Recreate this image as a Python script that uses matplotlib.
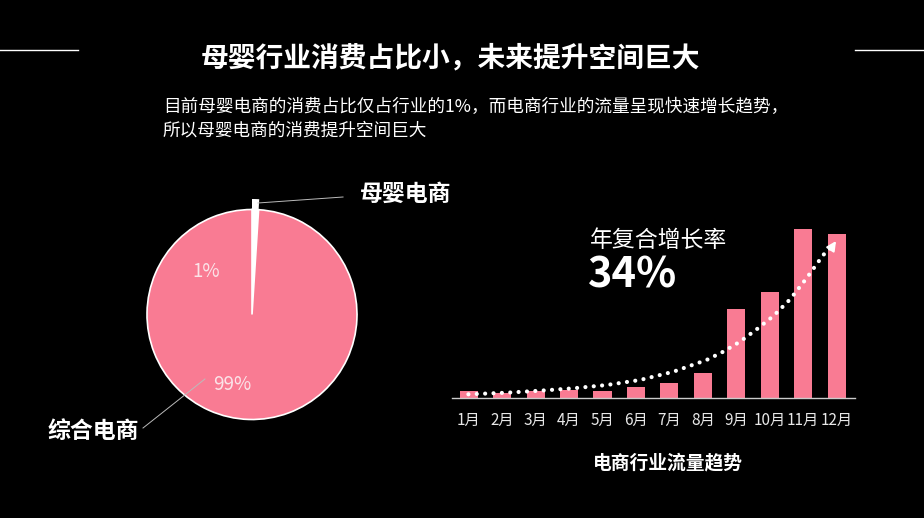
import numpy as np
import matplotlib
matplotlib.use("Agg")
import matplotlib.pyplot as plt
from matplotlib.lines import Line2D

plt.rcParams['font.family'] = ['Noto Sans CJK SC', 'DejaVu Sans']

# 数据
pie_labels = ["母婴电商", "综合电商"]
pie_values = [1, 99]
pie_pct = ["1%", "99%"]

months = ["1月", "2月", "3月", "4月", "5月", "6月", "7月", "8月", "9月", "10月", "11月", "12月"]
traffic = [0.70, 0.50, 0.67, 0.73, 0.70, 1.03, 1.43, 2.47, 8.83, 10.6, 16.87, 16.37]

# 趋势虚线（从图中读取的点）
trend_x = [-0.01, 1.14, 2.13, 3.13, 4.13, 5.12, 6.12, 7.11, 7.61, 8.11, 8.61, 9.11, 9.61, 10.1, 10.6, 10.92]
trend_y = [0.34, 0.50, 0.70, 0.94, 1.27, 1.77, 2.60, 3.77, 4.60, 5.60, 6.84, 8.17, 9.84, 11.94, 14.27, 15.3]

pink = "#f97b93"
W, H = 924, 518

fig = plt.figure(figsize=(W / 100, H / 100), dpi=100, facecolor="black")

def fx(px):
    return px / W

def fy(py):
    return 1 - py / H

# 标题和两侧线条
fig.text(fx(450), fy(58), "母婴行业消费占比小，未来提升空间巨大", color="white",
         fontsize=20, fontweight="bold", ha="center", va="center")
fig.add_artist(Line2D([0, fx(78)], [fy(50), fy(50)], color="white", lw=1))
fig.add_artist(Line2D([fx(855), 1], [fy(50), fy(50)], color="white", lw=1))

fig.text(fx(163), fy(107), "目前母婴电商的消费占比仅占行业的1%，而电商行业的流量呈现快速增长趋势，",
         color="white", fontsize=12.7, ha="left", va="center")
fig.text(fx(163), fy(130), "所以母婴电商的消费提升空间巨大",
         color="white", fontsize=12.7, ha="left", va="center")

# 饼图
ax1 = fig.add_axes([fx(126), fy(440.5), 252 / W, 252 / H])
ax1.set_facecolor("black")
ax1.pie(pie_values, colors=["none", pink], startangle=90, counterclock=False, radius=1,
        wedgeprops=dict(edgecolor="white", linewidth=1.2))
ax1.pie(pie_values, colors=["white", "none"], startangle=90, counterclock=False, radius=1.1,
        wedgeprops=dict(edgecolor="none"))
ax1.set_xlim(-1.2, 1.2)
ax1.set_ylim(-1.2, 1.2)
ax1.set_aspect("equal")
ax1.axis("off")

ax1.text(-0.44, 0.41, pie_pct[0], color="#fbe3e8", fontsize=13.5, ha="center", va="center")
ax1.text(-0.19, -0.67, pie_pct[1], color="#fbe3e8", fontsize=13.5, ha="center", va="center")

ax1.plot([0.057, 0.867], [1.062, 1.119], color="#bbbbbb", lw=0.7, clip_on=False)
ax1.text(1.03, 1.14, pie_labels[0], color="white", fontsize=16.5, fontweight="bold",
         ha="left", va="center", clip_on=False)
ax1.plot([-0.448, -1.038], [-0.614, -1.081], color="#bbbbbb", lw=0.7, clip_on=False)
ax1.text(-1.08, -1.11, pie_labels[1], color="white", fontsize=16.5, fontweight="bold",
         ha="right", va="center", clip_on=False)

# 柱状图
ax2 = fig.add_axes([fx(452), fy(397.7), 403 / W, 197.7 / H])
ax2.set_facecolor("black")
x = np.arange(len(months))
ax2.bar(x, traffic, width=0.54, color=pink)
ax2.set_xlim(-0.5, 11.55)
ax2.set_ylim(0, 19.77)
ax2.set_xticks(x)
ax2.set_xticklabels(months, color="#e8e8e8", fontsize=11)
ax2.tick_params(axis="x", length=0, pad=10)
ax2.set_yticks([])
for s in ["top", "right", "left"]:
    ax2.spines[s].set_visible(False)
ax2.spines["bottom"].set_color("#cccccc")
ax2.spines["bottom"].set_linewidth(1)

ax2.plot(trend_x, trend_y, color="white", lw=3, linestyle=(0, (0.01, 2.0)),
         dash_capstyle="round", clip_on=False)
ax2.annotate("", xy=(11.03, 15.9), xytext=(10.85, 15.0),
             arrowprops=dict(arrowstyle="-|>", color="white", mutation_scale=14, lw=1.5),
             annotation_clip=False)

fig.text(fx(590), fy(240), "年复合增长率", color="white", fontsize=16.5, ha="left", va="center")
fig.text(fx(588), fy(276), "34%", color="white", fontsize=30, fontweight="bold", ha="left", va="center")
fig.text(fx(668), fy(463), "电商行业流量趋势", color="white", fontsize=13.5, fontweight="bold",
         ha="center", va="center")

fig.savefig("out.png", dpi=100, facecolor="black")
